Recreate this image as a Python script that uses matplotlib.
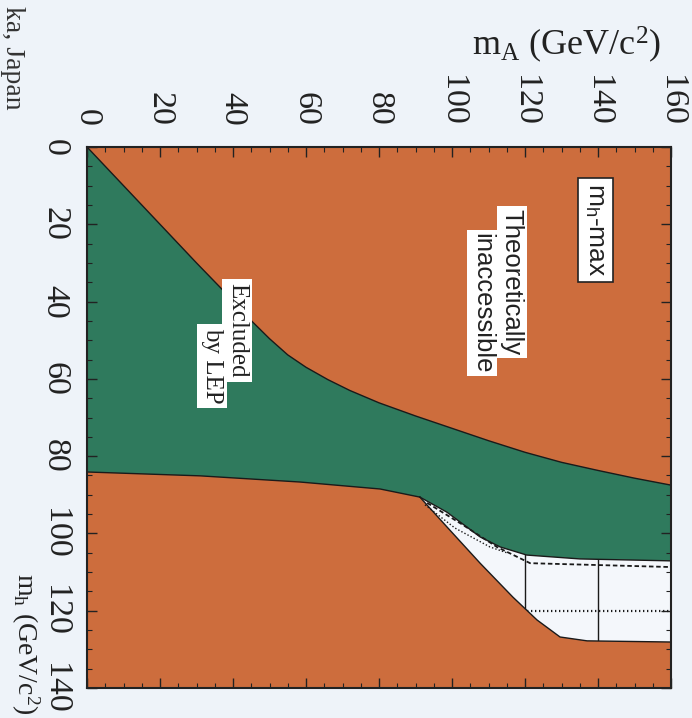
import matplotlib
matplotlib.use('Agg')
import matplotlib.pyplot as plt
from matplotlib.ticker import MultipleLocator
from matplotlib.patches import Polygon

# ---- data (m_A, m_h in GeV/c^2) ----
top_mA = [0, 20, 30, 38, 44, 50, 55, 60, 66, 72, 80, 90, 100, 110, 120, 130, 140, 150, 160]
top_mh = [0, 20, 30, 37.8, 44.0, 49.6, 53.8, 57.0, 60.2, 63.0, 66.2, 69.6, 72.8, 76.0, 79.0, 81.6, 83.7, 85.7, 87.5]
lep_mA = [0, 31.0, 58.4, 80.3, 91.2]
lep_mh = [84.1, 85.1, 86.7, 88.5, 90.6]
wup_mA = [91.2, 98.6, 107.7, 113.2, 120.5, 135.1, 160]
wup_mh = [90.6, 94.5, 100.9, 103.5, 105.6, 106.6, 107.1]
wlo_mA = [91.2, 98.6, 107.7, 116.7, 123.3, 129.6, 137.0, 160]
wlo_mh = [90.6, 98.3, 107.7, 116.5, 122.4, 126.8, 127.8, 128.1]
dash_mA = [93.2, 103.0, 112.3, 121.4, 160]
dash_mh = [92.1, 97.8, 103.5, 107.7, 108.7]
dot_mA = [92.6, 100.8, 110.4, 115.0]
dot_mh = [92.6, 98.6, 103.5, 105.0]
grid_mA = [120, 140]
grid_mh = [120]
mA_ticks = [0, 20, 40, 60, 80, 100, 120, 140, 160]
mh_ticks = [0, 20, 40, 60, 80, 100, 120, 140]

ORANGE = '#CD6D3D'
GREEN = '#2F7A5D'
WHITE = '#F4F7FB'
BG = '#EEF3F9'

plt.rcParams['font.family'] = ['Liberation Serif', 'DejaVu Serif']
plt.rcParams['mathtext.fontset'] = 'custom'
plt.rcParams['mathtext.rm'] = 'Liberation Serif'
plt.rcParams['mathtext.it'] = 'Liberation Serif:italic'
plt.rcParams['mathtext.sf'] = 'Liberation Sans'

fig = plt.figure(figsize=(6.92, 7.18), dpi=100, facecolor=BG)
ax = fig.add_axes([87/692, 1-688/718, (671-87)/692, (688-147)/718])
ax.set_facecolor(ORANGE)
ax.set_xlim(mA_ticks[0], mA_ticks[-1])
ax.set_ylim(mh_ticks[-1], mh_ticks[0])

# green excluded region
g_x = top_mA + [top_mA[-1]] + wup_mA[::-1] + lep_mA[::-1]
g_y = top_mh + [wup_mh[-1]] + wup_mh[::-1] + lep_mh[::-1]
ax.add_patch(Polygon(list(zip(g_x, g_y)), closed=True, facecolor=GREEN, edgecolor='none', zorder=1))

# white allowed region
w_x = wup_mA + wlo_mA[::-1]
w_y = wup_mh + wlo_mh[::-1]
wpatch = Polygon(list(zip(w_x, w_y)), closed=True, facecolor=WHITE, edgecolor='none', zorder=1)
ax.add_patch(wpatch)

# boundary lines
lc = '#1a1a1a'
ax.plot(top_mA, top_mh, color=lc, lw=1.0, zorder=3)
ax.plot(lep_mA, lep_mh, color=lc, lw=1.0, zorder=3)
ax.plot(wup_mA, wup_mh, color=lc, lw=1.0, zorder=3)
ax.plot(wlo_mA, wlo_mh, color=lc, lw=1.0, zorder=3)
ax.plot(dash_mA, dash_mh, color=lc, lw=1.3, ls=(0, (2.5, 1.5)), zorder=3)
ax.plot(dot_mA, dot_mh, color=lc, lw=1.0, ls=(0, (1, 1.5)), zorder=3)

for v in grid_mA:
    ln = ax.axvline(v, color=lc, lw=1.0, zorder=2)
    ln.set_clip_path(wpatch)
for h in grid_mh:
    ln = ax.axhline(h, color=lc, lw=1.6, ls=(0, (0.6, 1.2)), zorder=2)
    ln.set_clip_path(wpatch)

# ticks
ax.xaxis.tick_top()
ax.set_xticks(mA_ticks)
ax.set_yticks(mh_ticks)
ax.xaxis.set_minor_locator(MultipleLocator(5))
ax.yaxis.set_minor_locator(MultipleLocator(5))
ax.tick_params(which='both', direction='in', top=True, bottom=True, left=True, right=True,
               labeltop=True, labelbottom=False, labelleft=True, labelright=False, colors='#222222')
ax.tick_params(which='major', length=7, width=1.0, labelsize=24.5)
ax.tick_params(which='minor', length=3.5, width=0.8)
ax.tick_params(axis='x', which='major', pad=15, labelrotation=-90)
ax.tick_params(axis='y', which='major', pad=12, labelrotation=-90)
for lab in ax.get_yticklabels():
    lab.set_va('center')
for s in ax.spines.values():
    s.set_linewidth(1.5)
    s.set_color('#222222')
    s.set_zorder(5)

# in-plot labels
ax.text(41.1, 47.4, 'Excluded', rotation=-90, ha='center', va='center', fontsize=18, color='#222222',
        bbox=dict(facecolor='white', edgecolor='none', pad=3), zorder=6)
ax.text(34.2, 56.7, 'by LEP', rotation=-90, ha='center', va='center', fontsize=18, color='#222222',
        bbox=dict(facecolor='white', edgecolor='none', pad=3), zorder=6)
ax.text(116.4, 34.9, 'Theoretically', rotation=-90, ha='center', va='center', fontsize=18.5,
        family='Liberation Sans', color='#222222',
        bbox=dict(facecolor='white', edgecolor='none', pad=2), zorder=6)
ax.text(108.2, 40.4, 'inaccessible', rotation=-90, ha='center', va='center', fontsize=18.5,
        family='Liberation Sans', color='#222222',
        bbox=dict(facecolor='white', edgecolor='none', pad=2), zorder=6)
ax.text(139.2, 21.5, r'm$_\mathsf{h}$-max', rotation=-90, ha='center', va='center', fontsize=19,
        family='Liberation Sans', color='#222222',
        bbox=dict(facecolor='white', edgecolor='#222222', lw=1.2, pad=4), zorder=6)

# axis titles
fig.text(567/692, 1-45/718, r'm$_\mathrm{A}$ (GeV/c$^2$)', ha='center', va='center', fontsize=26, color='#222222')
fig.text(25/692, 1-644/718, r'm$_\mathrm{h}$ (GeV/c$^2$)', rotation=-90, ha='center', va='center',
         fontsize=20, color='#222222')
fig.text(12/692, 1-58/718, 'ka, Japan', rotation=-90, ha='center', va='center', fontsize=20, color='#333333')

fig.savefig('out.png', dpi=100, facecolor=BG)
